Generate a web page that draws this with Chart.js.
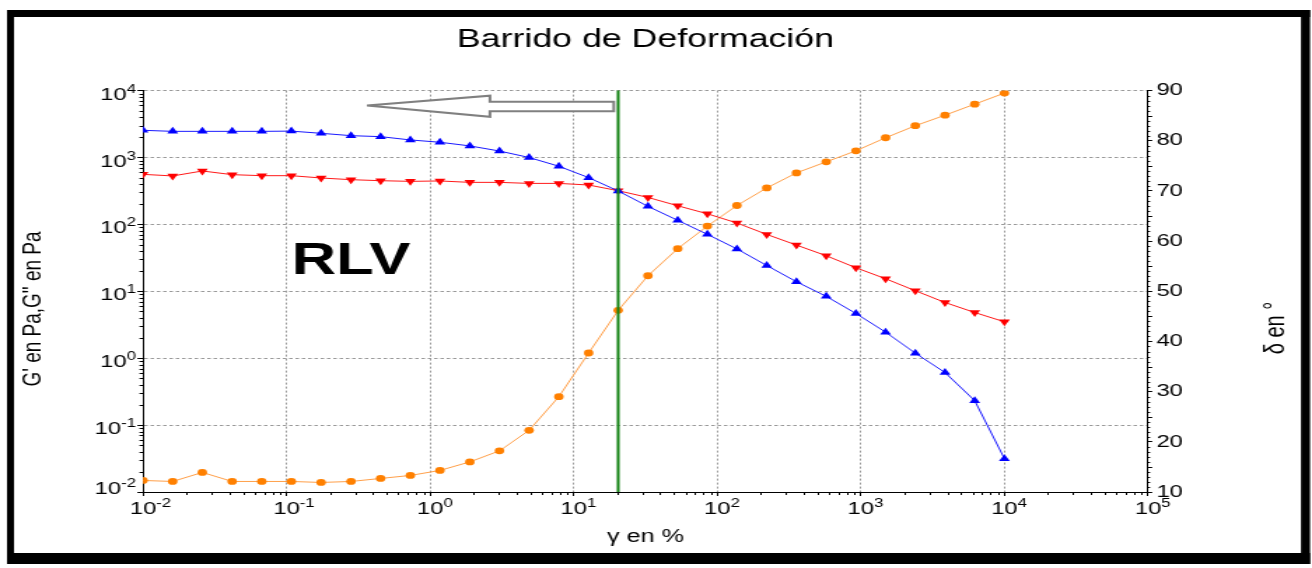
<!DOCTYPE html>
<html>
<head>
<meta charset="utf-8">
<script src="https://cdn.jsdelivr.net/npm/chart.js@4.4.1/dist/chart.umd.min.js"></script>
<style>
  html, body { margin: 0; padding: 0; background: #fff; overflow: hidden; }
  /* la captura original está estirada en horizontal: dibujamos estrecho y escalamos */
  #wrap { width: 937px; height: 568px; transform: scaleX(1.40021); transform-origin: 0 0; }
</style>
</head>
<body>
<div id="wrap"><canvas id="sweep" width="937" height="568"></canvas></div>
<script>
// --- DATOS ---
const strain = [0.0100, 0.0161, 0.0259, 0.0418, 0.0672, 0.108, 0.174, 0.281, 0.452, 0.728,
                1.17, 1.89, 3.04, 4.89, 7.88, 12.7, 20.4, 32.9, 53.0, 85.3,
                137, 221, 356, 574, 924, 1487, 2395, 3857, 6210, 10000];

const gPrime = [2550, 2460, 2460, 2460, 2460, 2480, 2300, 2120, 2050, 1830,
                1690, 1490, 1250, 1000, 740, 500, 316, 186, 115, 71,
                43, 24.3, 13.9, 8.4, 4.66, 2.45, 1.19, 0.61, 0.232, 0.0315];

const gDoublePrime = [560, 530, 629, 554, 535, 535, 494, 466, 450, 440,
                      446, 425, 425, 410, 410, 388, 319, 253, 190, 144,
                      105, 70.8, 49.1, 34.0, 22.5, 15.4, 10.2, 6.8, 4.82, 3.50];

const delta = [12.3, 12.1, 13.9, 12.1, 12.1, 12.1, 11.9, 12.1, 12.7, 13.3,
               14.3, 16.0, 18.2, 22.3, 29.0, 37.7, 46.2, 53.1, 58.5, 63.0,
               67.1, 70.6, 73.6, 75.8, 78.0, 80.6, 83.0, 85.1, 87.3, 89.5];

const strainTicks = [0.01, 0.1, 1, 10, 100, 1000, 10000, 100000];
const modulusTicks = [0.01, 0.1, 1, 10, 100, 1000, 10000];
const deltaTicks = [10, 20, 30, 40, 50, 60, 70, 80, 90];

// anotaciones: línea verde del cruce, flecha y texto RLV (en coordenadas de datos)
const crossoverStrain = 20.4;
const arrowStrain = [0.363, 2.61, 2.61, 19.0, 19.0, 2.61, 2.61];
const arrowModulus = [5970, 8400, 6790, 6790, 4900, 4900, 4060];
const rlvStrain = 0.281;
const rlvModulus = 27.6;

const FONT = '"Liberation Sans", Arial, sans-serif';
const SX = 1312 / 937; // estiramiento horizontal
const GRID = '#9a9a9a';

const toPoints = ys => strain.map((x, i) => ({ x, y: ys[i] }));
const fixTicks = list => scale => { scale.ticks = list.map(v => ({ value: v })); };

// "10" con exponente en superíndice
function powLabel(ctx, x, y, exp, align) {
    ctx.font = `17px ${FONT}`;
    const bw = ctx.measureText('10').width;
    ctx.font = `12px ${FONT}`;
    const sup = String(exp);
    const sw = ctx.measureText(sup).width;
    const x0 = align === 'center' ? x - bw / 2 : x - bw - sw;
    ctx.textAlign = 'left';
    ctx.textBaseline = 'alphabetic';
    ctx.font = `17px ${FONT}`;
    ctx.fillText('10', x0, y);
    ctx.font = `12px ${FONT}`;
    ctx.fillText(sup, x0 + bw, y - 7);
}

const decor = {
    id: 'decor',
    beforeDraw(chart) {
        const { ctx, width, height } = chart;
        ctx.save();
        ctx.fillStyle = '#fff';
        ctx.fillRect(0, 0, width, height);
        // marco negro
        ctx.fillStyle = '#000';
        ctx.fillRect(7 / SX, 10, 7 / SX, 554);
        ctx.fillRect(1301 / SX, 10, 9 / SX, 554);
        ctx.fillRect(7 / SX, 10, 1303 / SX, 7);
        ctx.fillRect(7 / SX, 553, 1303 / SX, 11);
        ctx.restore();
    },
    afterDatasetsDraw(chart) {
        const { ctx, chartArea } = chart;
        const x = chart.scales.x.getPixelForValue(crossoverStrain);
        ctx.save();
        ctx.strokeStyle = '#138213';
        ctx.lineWidth = 2;
        ctx.beginPath();
        ctx.moveTo(x, chartArea.top);
        ctx.lineTo(x, chartArea.bottom);
        ctx.stroke();
        ctx.restore();
    },
    afterDraw(chart) {
        const { ctx, chartArea } = chart;
        const xs = chart.scales.x, ys = chart.scales.y, ds = chart.scales.y1;
        ctx.save();
        ctx.fillStyle = '#000';

        // etiquetas de los ejes logarítmicos
        strainTicks.forEach(v => {
            powLabel(ctx, xs.getPixelForValue(v), chartArea.bottom + 22, Math.round(Math.log10(v)), 'center');
        });
        modulusTicks.forEach(v => {
            const py = ys.getPixelForValue(v) + (v === modulusTicks[0] ? 2 : 9);
            powLabel(ctx, chartArea.left - 5, py, Math.round(Math.log10(v)), 'right');
        });

        // marcas menores
        ctx.strokeStyle = '#000';
        ctx.lineWidth = 1;
        ctx.beginPath();
        for (let d = -2; d <= 4; d++) {
            for (let m = 2; m <= 9; m++) {
                const v = m * Math.pow(10, d);
                const px = Math.round(xs.getPixelForValue(v)) + 0.5;
                ctx.moveTo(px, chartArea.bottom);
                ctx.lineTo(px, chartArea.bottom + 3);
                if (d <= 3) {
                    const py = Math.round(ys.getPixelForValue(v)) + 0.5;
                    ctx.moveTo(chartArea.left, py);
                    ctx.lineTo(chartArea.left - 2.5, py);
                }
            }
        }
        for (let v = 11; v < 90; v++) {
            if (v % 10 === 0) continue;
            const py = Math.round(ds.getPixelForValue(v)) + 0.5;
            ctx.moveTo(chartArea.right, py);
            ctx.lineTo(chartArea.right + (v % 5 === 0 ? 3 : 1.5), py);
        }
        ctx.stroke();

        // títulos de los ejes verticales (ambos de abajo hacia arriba)
        ctx.textAlign = 'center';
        ctx.textBaseline = 'middle';
        ctx.save();
        ctx.translate(33 / SX, 309);
        ctx.rotate(-Math.PI / 2);
        ctx.font = `19px ${FONT}`;
        ctx.fillText('G\' en Pa,G" en Pa', 0, 0);
        ctx.restore();
        ctx.save();
        ctx.translate(1276 / SX, 328);
        ctx.rotate(-Math.PI / 2);
        ctx.font = `20px ${FONT}`;
        ctx.fillText('δ en °', 0, 0);
        ctx.restore();

        // flecha hueca
        ctx.beginPath();
        arrowStrain.forEach((v, i) => {
            const px = xs.getPixelForValue(v), py = ys.getPixelForValue(arrowModulus[i]);
            if (i === 0) ctx.moveTo(px, py); else ctx.lineTo(px, py);
        });
        ctx.closePath();
        ctx.fillStyle = '#fff';
        ctx.fill();
        ctx.strokeStyle = '#808080';
        ctx.lineWidth = 2;
        ctx.miterLimit = 4;
        ctx.stroke();

        // RLV
        ctx.fillStyle = '#000';
        ctx.font = `bold 44px ${FONT}`;
        ctx.fillText('RLV', xs.getPixelForValue(rlvStrain), ys.getPixelForValue(rlvModulus));
        ctx.restore();
    }
};

new Chart(document.getElementById('sweep'), {
    type: 'scatter',
    data: {
        datasets: [
            {
                label: "G'",
                data: toPoints(gPrime),
                yAxisID: 'y',
                showLine: true,
                borderColor: '#1a1aff',
                backgroundColor: '#0000ff',
                borderWidth: 1,
                pointStyle: 'triangle',
                pointRadius: 4.5,
                pointBorderWidth: 0
            },
            {
                label: "G''",
                data: toPoints(gDoublePrime),
                yAxisID: 'y',
                showLine: true,
                borderColor: '#ff1a1a',
                backgroundColor: '#ff0000',
                borderWidth: 1,
                pointStyle: 'triangle',
                pointRotation: 180,
                pointRadius: 4.5,
                pointBorderWidth: 0
            },
            {
                label: 'δ',
                data: toPoints(delta),
                yAxisID: 'y1',
                showLine: true,
                borderColor: '#ffa04a',
                backgroundColor: '#ff8000',
                borderWidth: 1,
                pointStyle: 'circle',
                pointRadius: 3.4,
                pointBorderWidth: 0
            }
        ]
    },
    options: {
        responsive: false,
        animation: false,
        events: [],
        layout: { padding: 0 },
        plugins: {
            legend: { display: false },
            tooltip: { enabled: false },
            title: {
                display: true,
                text: 'Barrido de Deformación',
                fullSize: false,
                color: '#000',
                font: { family: FONT, size: 25.5, weight: 'normal' },
                padding: { top: 25, bottom: 35 }
            }
        },
        scales: {
            x: {
                type: 'logarithmic',
                position: 'bottom',
                min: 0.01,
                max: 100000,
                afterBuildTicks: fixTicks(strainTicks),
                afterFit: s => { s.height = 76; },
                ticks: { display: false },
                grid: { color: GRID, lineWidth: 1, tickColor: '#000', tickLength: 4 },
                border: { color: '#000', width: 1, dash: [2, 2] },
                title: {
                    display: true,
                    text: 'γ en %',
                    color: '#000',
                    font: { family: FONT, size: 18 },
                    padding: { top: 0, bottom: 20 }
                }
            },
            y: {
                type: 'logarithmic',
                position: 'left',
                min: 0.01,
                max: 10000,
                afterBuildTicks: fixTicks(modulusTicks),
                afterFit: s => { s.width = 143 / SX; },
                ticks: { display: false },
                grid: { color: GRID, lineWidth: 1, tickColor: '#000', tickLength: 4 },
                border: { color: '#000', width: 1, dash: [2.5, 2] }
            },
            y1: {
                type: 'linear',
                position: 'right',
                min: 10,
                max: 90,
                afterBuildTicks: fixTicks(deltaTicks),
                afterFit: s => { s.width = 937 - 1148 / SX; },
                ticks: { color: '#000', font: { family: FONT, size: 17 }, padding: 3 },
                grid: { drawOnChartArea: false, tickColor: '#000', tickLength: 3 },
                border: { color: '#000', width: 1 }
            }
        }
    },
    plugins: [decor]
});
</script>
</body>
</html>
